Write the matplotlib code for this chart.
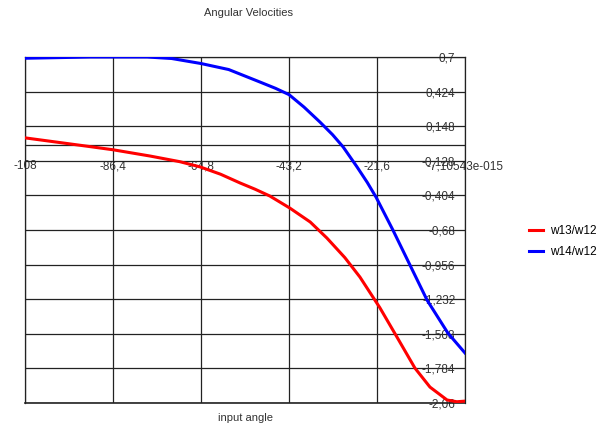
import matplotlib.pyplot as plt

plt.rcParams["font.family"] = ["Liberation Sans", "DejaVu Sans"]
plt.rcParams["font.size"] = 8.5

# input angle readings
red_x = [-108, -100, -92, -86.4, -77.3, -70, -65.0, -60, -55.2, -51.5, -47.9,
         -43.0, -38.0, -33.9, -29.5, -25.8, -22.6, -20.9, -16.7, -12.3, -8.6,
         -4.4, -2, 0]
red_y = [0.055, 0.02, -0.015, -0.04, -0.09, -0.135, -0.177, -0.235, -0.305,
         -0.355, -0.409, -0.505, -0.616, -0.744, -0.90, -1.055, -1.215, -1.30,
         -1.534, -1.781, -1.933, -2.036, -2.05, -2.045]

blue_x = [-108, -100, -92, -84, -78, -72, -64.8, -58, -50.3, -46.5, -43.2,
          -39.5, -35.6, -32.5, -29.9, -26.5, -24, -21.8, -17.7, -13.5, -9.3,
          -4.2, 0]
blue_y = [0.69, 0.695, 0.70, 0.70, 0.70, 0.688, 0.648, 0.60, 0.50, 0.45, 0.40,
          0.30, 0.181, 0.08, -0.018, -0.177, -0.30, -0.42, -0.68, -0.96, -1.24,
          -1.502, -1.661]

x_ticks = [-108, -86.4, -64.8, -43.2, -21.6, 0]
x_labels = ["-108", "-86,4", "-64,8", "-43,2", "-21,6", "-7,10543e-015"]
y_ticks = [0.7, 0.424, 0.148, -0.128, -0.404, -0.68, -0.956, -1.232, -1.508,
           -1.784, -2.06]
y_labels = ["0,7", "0,424", "0,148", "-0,128", "-0,404", "-0,68", "-0,956",
            "-1,232", "-1,508", "-1,784", "-2,06"]

W, H = 608, 430
fig = plt.figure(figsize=(W / 100, H / 100), dpi=100)
ax = fig.add_axes((25 / W, 1 - 403 / H, 440 / W, 346 / H))

ax.plot(red_x, red_y, color="#ff0000", lw=2.2, label="w13/w12", zorder=3)
ax.plot(blue_x, blue_y, color="#0000ff", lw=2.2, label="w14/w12", zorder=3)

ax.set_xlim(-108, 0)
ax.set_ylim(-2.06, 0.7)

ax.set_xticks(x_ticks)
ax.set_xticklabels(x_labels)
ax.set_yticks(y_ticks)
ax.set_yticklabels(y_labels, ha="right")
ax.grid(True, color="#222222", lw=0.9)
ax.axhline(0, color="#222222", lw=0.9)

for s in ax.spines.values():
    s.set_color("#222222")
    s.set_linewidth(0.9)

# x labels hang under the zero line, y labels sit inside the right edge
ax.spines["bottom"].set_position(("data", 0))
ax.spines["bottom"].set_visible(False)
ax.yaxis.tick_right()
ax.tick_params(axis="y", length=0, pad=-7, colors="#333333")
ax.tick_params(axis="x", length=0, pad=11, colors="#333333")
ax.axhline(-2.06, color="#222222", lw=1.2, clip_on=False)

fig.text(249 / W, 1 - 13 / H, "Angular Velocities", ha="center", va="center",
         color="#333333", fontsize=8)
fig.text(245 / W, 1 - 418 / H, "input angle", ha="center", va="center",
         color="#333333", fontsize=8)

fig.legend(loc="center left", bbox_to_anchor=(529 / W, 1 - 241.5 / H),
           frameon=False, handlelength=1.2, handletextpad=0.6,
           labelspacing=0.75, borderpad=0, borderaxespad=0)

fig.savefig("out.png", dpi=100)
